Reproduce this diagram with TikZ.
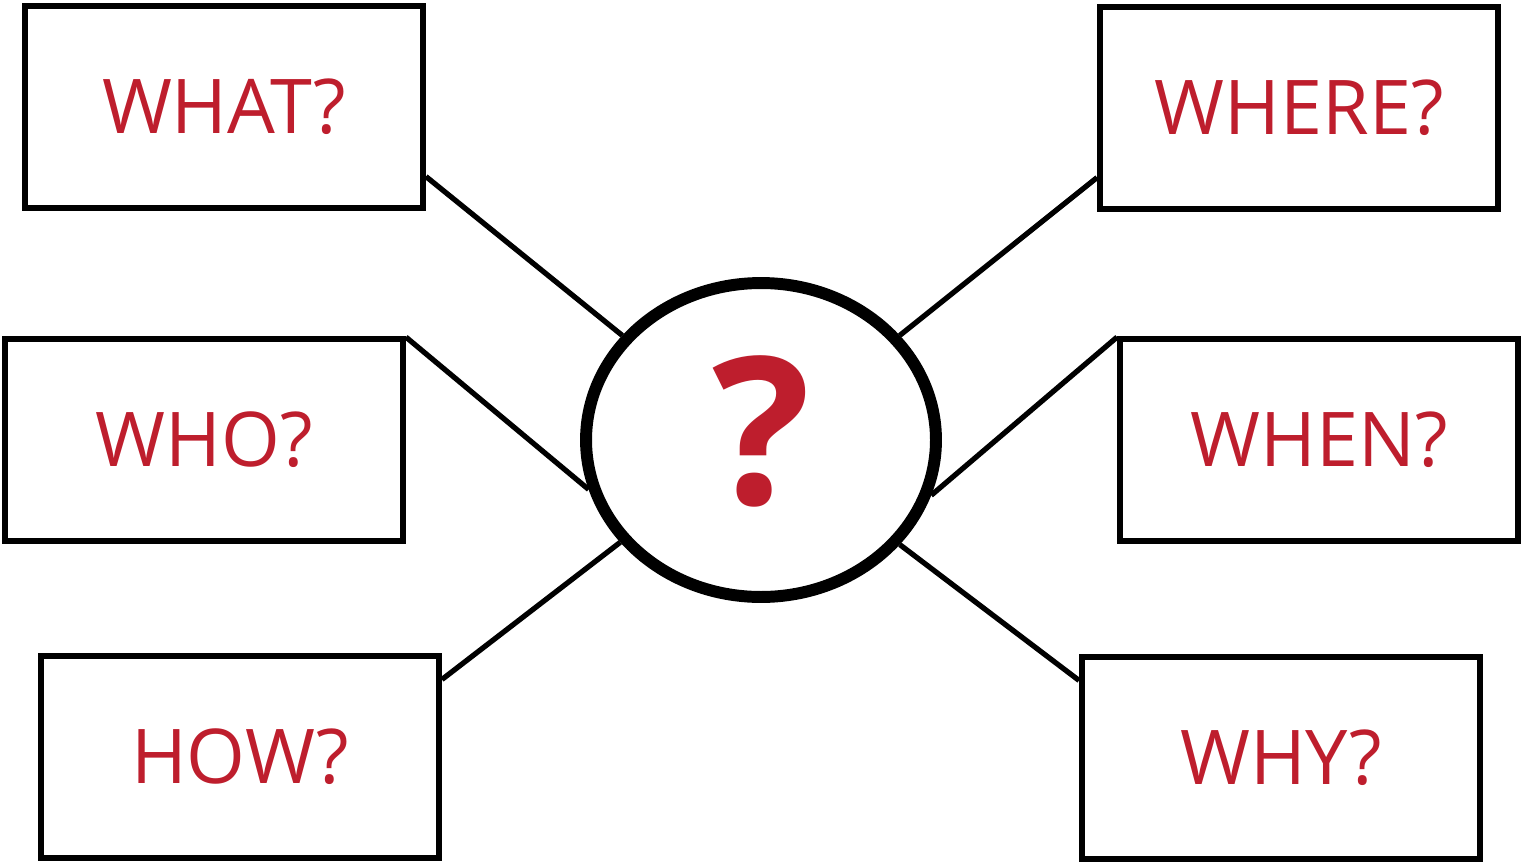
\documentclass[tikz,border=0pt]{standalone}
\usepackage{fontspec}
\setmainfont{Open Sans}
\usetikzlibrary{shapes.geometric}
\definecolor{qred}{RGB}{190,30,45}

\begin{document}
\begin{tikzpicture}[x=0.02cm,y=-0.02cm,
    qbox/.style={draw,line width=3.4pt,minimum width=7.96cm,minimum height=4.04cm,
        text=qred,font=\fontsize{43}{43}\selectfont},
    qlink/.style={line width=3pt}]
       \useasboundingbox (0,0) rectangle (1523,865);

        \node[qbox] (what) at (224,107) {WHAT?};
        \node[qbox] (where) at (1299,108) {WHERE?};
        \node[qbox] (who) at (204,440) {WHO?};
        \node[qbox] (when) at (1319,440) {WHEN?};
        \node[qbox] (how) at (240,757) {HOW?};
        \node[qbox] (why) at (1281,758) {WHY?};

        \node[ellipse,draw,line width=6.8pt,inner sep=0pt,minimum width=7cm,minimum height=6.28cm] (q) at (761,440) {};
        \node[text=qred,font=\bfseries\fontsize{117}{117}\selectfont] (mark) at (762,431) {?};

        \draw[qlink] (what.-19) -- (q.143);
        \draw[qlink] (who.27) -- (q.196);
        \draw[qlink] (how.21) -- (q.216);
        \draw[qlink] (where.199) -- (q.37);
        \draw[qlink] (when.153) -- (q.342);
        \draw[qlink] (why.159) -- (q.323);
      \end{tikzpicture}
\end{document}
